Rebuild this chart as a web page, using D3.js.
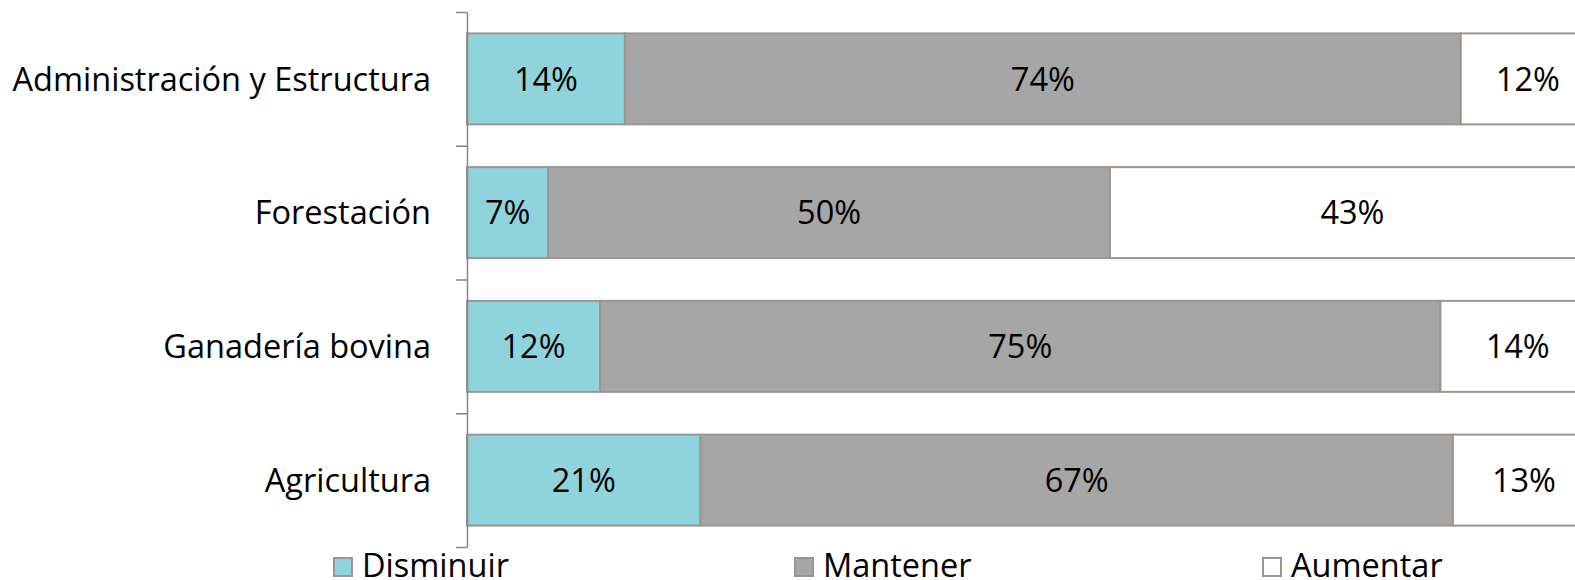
<!DOCTYPE html>
<html>
<head>
<meta charset="utf-8">
<script src="https://cdn.jsdelivr.net/npm/d3@7"></script>
<style>
  body { margin: 0; background: #fff; }
  svg { display: block; font-family: "Open Sans", "Lato", sans-serif; }
</style>
</head>
<body>
<div id="chart"></div>
<script>
// categories, top to bottom
var categories = ["Administración y Estructura", "Forestación", "Ganadería bovina", "Agricultura"];
var series = ["Disminuir", "Mantener", "Aumentar"];
// percent of answers per category
var disminuir = [14.0, 7.2, 11.8, 20.7];
var mantener  = [74.1, 49.8, 74.5, 66.7];
var aumentar  = [11.9, 43.0, 13.7, 12.6];

var colors = ["#8fd4dc", "#a6a6a6", "#ffffff"];

var width = 1575, height = 580;
var plot = {left: 467, right: 1595, top: 12, bottom: 547};

var svg = d3.select("#chart").append("svg")
  .attr("width", width)
  .attr("height", height);

var data = categories.map(function(c, i) {
  return {cat: c, Disminuir: disminuir[i], Mantener: mantener[i], Aumentar: aumentar[i]};
});

var stacked = d3.stack().keys(series)(data);

var x = d3.scaleLinear().domain([0, 100]).range([plot.left, plot.right]);
var y = d3.scaleBand().domain(categories)
  .range([plot.top, plot.bottom])
  .paddingInner(0.32).paddingOuter(0.16);
var color = d3.scaleOrdinal().domain(series).range(colors);

// bars
var layer = svg.selectAll(".layer")
  .data(stacked)
  .enter().append("g")
  .attr("class", "layer")
  .attr("fill", function(d) { return color(d.key); });

layer.selectAll("rect")
  .data(function(d) { return d; })
  .enter().append("rect")
  .attr("x", function(d) { return x(d[0]); })
  .attr("width", function(d) { return x(d[1]) - x(d[0]); })
  .attr("y", function(d) { return y(d.data.cat); })
  .attr("height", y.bandwidth())
  .attr("stroke", "#9e958f")
  .attr("stroke-width", 2);

// value labels
layer.selectAll("text")
  .data(function(d) { return d; })
  .enter().append("text")
  .attr("x", function(d) { return (x(d[0]) + x(d[1])) / 2; })
  .attr("y", function(d) { return y(d.data.cat) + y.bandwidth() / 2; })
  .attr("dy", "0.36em")
  .attr("text-anchor", "middle")
  .attr("fill", "#000")
  .style("font-size", "32.5px")
  .text(function(d) { return Math.round(d[1] - d[0]) + "%"; });

// category axis, ticks between categories
var edge = d3.scaleLinear().domain([0, categories.length]).range([plot.top, plot.bottom]);
var axis = svg.append("g")
  .attr("transform", "translate(" + plot.left + ",0)")
  .call(d3.axisLeft(edge).ticks(categories.length).tickSize(11).tickSizeOuter(0).tickFormat(""));
axis.select(".domain").attr("stroke", "#868686").attr("stroke-width", 1.5);
axis.selectAll(".tick line").attr("stroke", "#868686").attr("stroke-width", 1.5);

// category labels
svg.selectAll(".cat")
  .data(categories)
  .enter().append("text")
  .attr("class", "cat")
  .attr("x", 431)
  .attr("y", function(d) { return y(d) + y.bandwidth() / 2; })
  .attr("dy", "0.36em")
  .attr("text-anchor", "end")
  .style("font-size", "32.5px")
  .text(function(d) { return d; });

// legend
var legendX = [333, 794, 1262];
var leg = svg.selectAll(".leg")
  .data(series)
  .enter().append("g")
  .attr("class", "leg")
  .attr("transform", function(d, i) { return "translate(" + legendX[i] + ",557)"; });

leg.append("rect")
  .attr("x", 1).attr("y", 1)
  .attr("width", 18).attr("height", 18)
  .attr("fill", function(d) { return color(d); })
  .attr("stroke", "#9e958f")
  .attr("stroke-width", 2);

leg.append("text")
  .attr("x", 29)
  .attr("y", 10)
  .attr("dy", "0.3em")
  .style("font-size", "32.5px")
  .text(function(d) { return d; });
</script>
</body>
</html>
